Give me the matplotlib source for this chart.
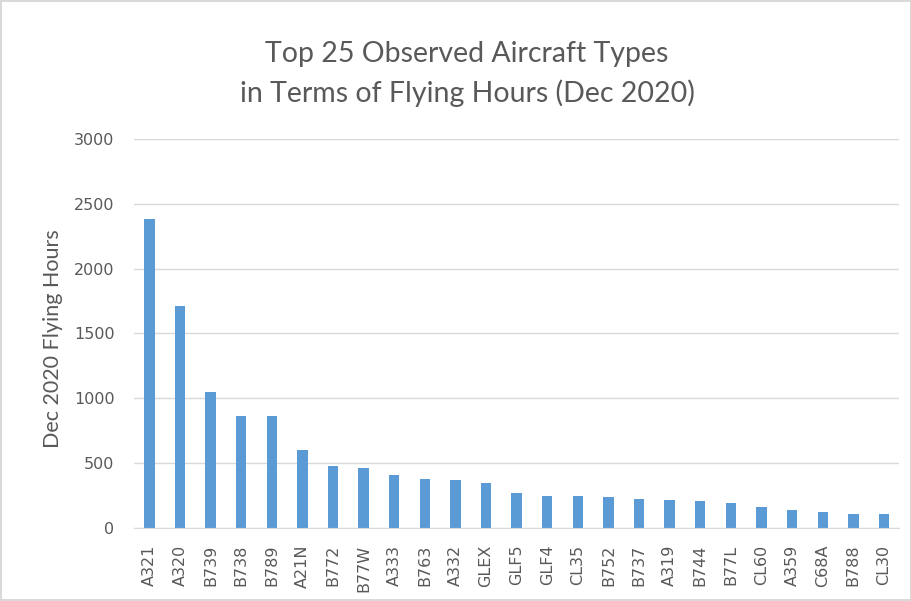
import matplotlib
matplotlib.use("Agg")
import matplotlib.pyplot as plt

aircraft = ["A321", "A320", "B739", "B738", "B789", "A21N", "B772", "B77W", "A333",
            "B763", "A332", "GLEX", "GLF5", "GLF4", "CL35", "B752", "B737", "A319",
            "B744", "B77L", "CL60", "A359", "C68A", "B788", "CL30"]
hours = [2385, 1713, 1052, 866, 860, 600, 481, 465, 412,
         378, 370, 347, 270, 248, 247, 239, 227, 216,
         206, 196, 162, 142, 121, 111, 111]
yticks = [0, 500, 1000, 1500, 2000, 2500, 3000]

plt.rcParams['font.family'] = ['Lato', 'DejaVu Sans']
grey = "#595959"

fig = plt.figure(figsize=(9.12, 6.01), dpi=100)
fig.patch.set_edgecolor("#d9d9d9")
fig.patch.set_linewidth(1.5)
ax = fig.add_axes([0.147, 0.1215, 0.839, 0.6475])

x = list(range(len(aircraft)))
ax.bar(x, hours, width=0.34, color="#5b9bd5", zorder=3)

ax.set_xlim(-0.5, len(aircraft) - 0.5)
ax.set_ylim(0, 3000)
ax.set_yticks(yticks)
ax.set_yticklabels([str(v) for v in yticks], fontsize=11.5, color=grey,
                   family="DejaVu Sans")
ax.set_xticks(x)
ax.set_xticklabels(aircraft, rotation=90, fontsize=11.5, color=grey,
                   family="DejaVu Sans")
ax.tick_params(axis="x", length=0, pad=12)
ax.tick_params(axis="y", length=0, pad=14)

ax.grid(axis="y", color="#d9d9d9", linewidth=1, zorder=0)
for s in ["top", "right", "left"]:
    ax.spines[s].set_visible(False)
ax.spines["bottom"].set_color("#d9d9d9")
ax.spines["bottom"].set_zorder(4)

fig.text(53 / 912, 1 - 339 / 601, "Dec 2020 Flying Hours", rotation=90,
         ha="center", va="center", fontsize=15.5, color=grey)
fig.text(0.512, 1 - 62 / 601, "Top 25 Observed Aircraft Types",
         ha="center", va="baseline", fontsize=20.5, color=grey)
fig.text(0.512, 1 - 102 / 601, "in Terms of Flying Hours (Dec 2020)",
         ha="center", va="baseline", fontsize=20.5, color=grey)

fig.savefig("out.png", dpi=100)
